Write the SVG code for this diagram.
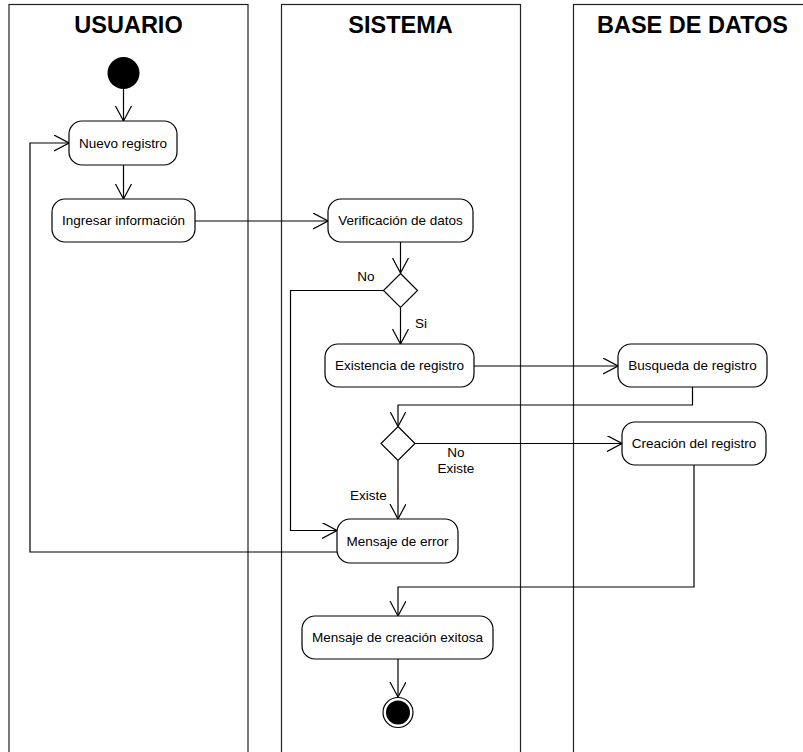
<svg xmlns="http://www.w3.org/2000/svg" width="803" height="752" viewBox="0 0 803 752">
<style>
.lane{fill:#fff;stroke:#222;stroke-width:1.2}
.title{font-family:"Liberation Sans",Arial,sans-serif;font-size:23.5px;font-weight:bold;text-anchor:middle;fill:#000}
.node{fill:#fff;stroke:#000;stroke-width:1.2}
.lbl{font-family:"Liberation Sans",Arial,sans-serif;font-size:13.5px;text-anchor:middle;fill:#000}
.edge{fill:none;stroke:#000;stroke-width:1.2}
</style>
<defs>
<marker id="arr" viewBox="0 0 16 18" refX="15" refY="8" markerWidth="16" markerHeight="18" orient="auto" markerUnits="userSpaceOnUse">
<path d="M0,0 L15,8 L0,16" fill="none" stroke="#000" stroke-width="1.2"/>
</marker>
</defs>
<rect width="803" height="752" fill="#fff"/>
<g id="lanes">
<g id="lane-usuario"><rect class="lane" x="9" y="4.5" width="239" height="800"/><text class="title" x="128.5" y="33">USUARIO</text></g>
<g id="lane-sistema"><rect class="lane" x="281.5" y="4.5" width="239" height="800"/><text class="title" x="400.5" y="33">SISTEMA</text></g>
<g id="lane-bd"><rect class="lane" x="573.5" y="4.5" width="239" height="800"/><text class="title" x="692.5" y="33">BASE DE DATOS</text></g>
</g>
<g id="connectors">
<path class="edge" d="M123.5,89 V121" marker-end="url(#arr)"/>
<path class="edge" d="M123.5,165 V199" marker-end="url(#arr)"/>
<path class="edge" d="M195,221 H328" marker-end="url(#arr)"/>
<path class="edge" d="M400.5,242 V273" marker-end="url(#arr)"/>
<path class="edge" d="M400.5,308 V344" marker-end="url(#arr)"/>
<path class="edge" d="M383.5,290.5 H290.5 V530.5 H337" marker-end="url(#arr)"/>
<path class="edge" d="M474,366 H618" marker-end="url(#arr)"/>
<path class="edge" d="M692.5,387 V405 H398 V426.5" marker-end="url(#arr)"/>
<path class="edge" d="M415,443.5 H622" marker-end="url(#arr)"/>
<path class="edge" d="M398,460.5 V519" marker-end="url(#arr)"/>
<path class="edge" d="M337,552 H30 V143 H69" marker-end="url(#arr)"/>
<path class="edge" d="M694,465 V587 H398 V616" marker-end="url(#arr)"/>
<path class="edge" d="M398,659 V697" marker-end="url(#arr)"/>
<text class="lbl" x="366" y="281">No</text>
<text class="lbl" x="421" y="328">Si</text>
<text class="lbl" x="456" y="456.5">No</text>
<text class="lbl" x="456" y="472.5">Existe</text>
<text class="lbl" x="368.5" y="499.5">Existe</text>
</g>
<g id="start"><circle cx="123.5" cy="73" r="16" fill="#000"/></g>
<g id="nuevo-registro"><rect class="node" x="69" y="121" width="108" height="44" rx="13"/><text class="lbl" x="123" y="147.8">Nuevo registro</text></g>
<g id="ingresar-informacion"><rect class="node" x="52" y="199" width="143" height="43" rx="13"/><text class="lbl" x="123.5" y="225.3">Ingresar información</text></g>
<g id="verificacion-datos"><rect class="node" x="328" y="199" width="145" height="43" rx="13"/><text class="lbl" x="400.5" y="225.3">Verificación de datos</text></g>
<g id="decision-1"><polygon class="node" points="400.5,273.5 417.5,290.5 400.5,307.5 383.5,290.5"/></g>
<g id="existencia-registro"><rect class="node" x="325" y="344" width="149" height="43" rx="13"/><text class="lbl" x="399.5" y="370.3">Existencia de registro</text></g>
<g id="busqueda-registro"><rect class="node" x="618" y="344" width="149" height="43" rx="13"/><text class="lbl" x="692.5" y="370.3">Busqueda de registro</text></g>
<g id="decision-2"><polygon class="node" points="398,426.5 415,443.5 398,460.5 381,443.5"/></g>
<g id="creacion-registro"><rect class="node" x="622" y="422" width="144" height="43" rx="13"/><text class="lbl" x="694" y="448.3">Creación del registro</text></g>
<g id="mensaje-error"><rect class="node" x="337" y="519" width="121" height="44" rx="13"/><text class="lbl" x="397.5" y="545.8">Mensaje de error</text></g>
<g id="mensaje-creacion"><rect class="node" x="302" y="616" width="191" height="43" rx="13"/><text class="lbl" x="397.5" y="642.3">Mensaje de creación exitosa</text></g>
<g id="end"><circle cx="398" cy="712.5" r="15" fill="#fff" stroke="#000" stroke-width="1.2"/><circle cx="398" cy="712.5" r="12" fill="#000"/></g>
</svg>
